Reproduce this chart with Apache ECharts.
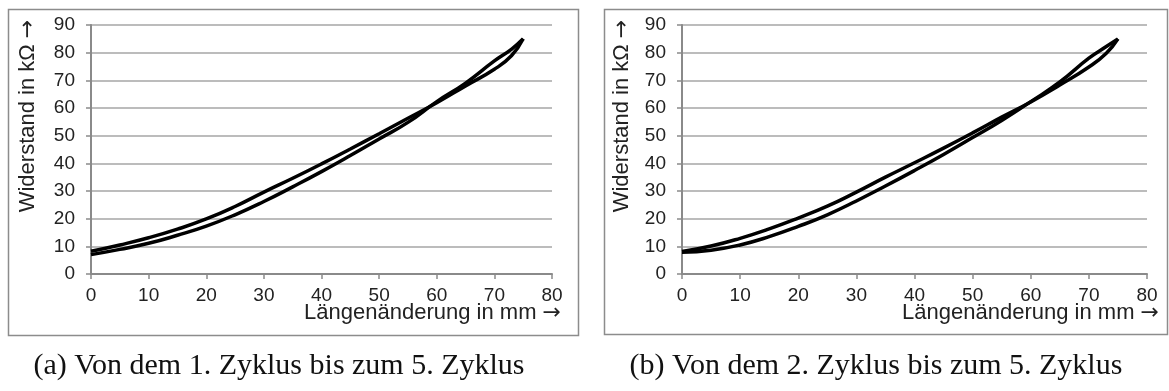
<!DOCTYPE html>
<html>
<head>
<meta charset="utf-8">
<script src="https://cdn.jsdelivr.net/npm/echarts@6/dist/echarts.min.js"></script>
<style>
  html, body { margin: 0; padding: 0; background: #fff; }
  #chart { width: 1169px; height: 391px; }
</style>
</head>
<body>
<div id="chart"></div>
<script>
// Längenänderung in mm (shared x positions)
const laenge = [0, 5, 10, 15, 20, 25, 30, 35, 40, 45, 50, 55, 60, 65, 70, 73, 75]

// (a) 1. bis 5. Zyklus, Widerstand in kΩ
const zyklus1Oben = [8.2, 10.5, 13.1, 16.2, 19.9, 24.4, 29.6, 34.6, 39.8, 45.2, 50.7, 56.3, 61.9, 68.0, 74.0, 79.0, 85]
const zyklus1Unten = [7.0, 8.9, 11.1, 14.0, 17.3, 21.4, 26.2, 31.5, 37.0, 42.8, 48.8, 54.8, 62.3, 69.0, 77.0, 81.3, 85]

// (b) 2. bis 5. Zyklus, Widerstand in kΩ
const zyklus2Oben = [8.1, 10.1, 12.9, 16.3, 20.2, 24.5, 29.6, 35.0, 40.2, 45.5, 51.0, 56.7, 62.2, 68.3, 74.8, 79.8, 85]
const zyklus2Unten = [7.9, 8.6, 10.5, 13.5, 17.2, 21.4, 26.4, 31.8, 37.4, 43.2, 49.3, 55.5, 62.3, 69.4, 78.0, 82.2, 85]

const yTitle = 'Widerstand in kΩ {a|→}'
const xTitle = 'Längenänderung in mm {a|→}'
const captions = ['(a) Von dem 1. Zyklus bis zum 5. Zyklus', '(b) Von dem 2. Zyklus bis zum 5. Zyklus']

const pairs = (ys) => laenge.map((x, i) => [x, ys[i]])

const axisGray = '#8a8a8a'
const labelFont = { fontFamily: 'Liberation Sans', fontSize: 19, color: '#222' }

const makeX = (gridIndex) => ({
  gridIndex,
  type: 'value',
  min: 0,
  max: 80,
  interval: 10,
  axisLine: { show: true, lineStyle: { color: axisGray, width: 2 } },
  axisTick: { show: true, length: 5, lineStyle: { color: axisGray, width: 1.5 } },
  axisLabel: { ...labelFont, margin: 12 },
  splitLine: { show: false },
})
const makeY = (gridIndex) => ({
  gridIndex,
  type: 'value',
  min: 0,
  max: 90,
  interval: 10,
  axisLine: { show: true, lineStyle: { color: axisGray, width: 2 } },
  axisTick: { show: true, length: 5, lineStyle: { color: axisGray, width: 1.5 } },
  axisLabel: { ...labelFont, margin: 16 },
  splitLine: { show: true, lineStyle: { color: '#a6a6a6', width: 1.5 } },
})
const makeLine = (ys, idx) => ({
  type: 'line',
  xAxisIndex: idx,
  yAxisIndex: idx,
  data: pairs(ys),
  smooth: 0.5,
  showSymbol: false,
  lineStyle: { color: '#000', width: 3.5 },
  silent: true,
})

const titleText = (x, y, text, extra) => ({
  type: 'text',
  x,
  y,
  style: {
    text,
    font: '22px "Liberation Sans"',
    fill: '#222',
    rich: { a: { fontFamily: 'DejaVu Sans', fontSize: 22, fill: '#222' } },
    ...extra,
  },
})

const captionText = (x, text) => ({
  type: 'text',
  x,
  y: 366,
  style: { text, font: '30px "Liberation Serif"', fill: '#111', align: 'center', verticalAlign: 'middle' },
})

const chart = echarts.init(document.getElementById('chart'))
chart.setOption({
  animation: false,
  grid: [
    { left: 91, top: 25, width: 461, height: 249 },
    { left: 682, top: 25, width: 465, height: 249 },
  ],
  xAxis: [makeX(0), makeX(1)],
  yAxis: [makeY(0), makeY(1)],
  series: [
    makeLine(zyklus1Oben, 0),
    makeLine(zyklus1Unten, 0),
    makeLine(zyklus2Oben, 1),
    makeLine(zyklus2Unten, 1),
  ],
  graphic: [
    { type: 'rect', shape: { x: 8.5, y: 9.5, width: 570, height: 326 }, style: { fill: 'none', stroke: '#8c8c8c', lineWidth: 1.5 } },
    { type: 'rect', shape: { x: 604.5, y: 9.5, width: 563, height: 325 }, style: { fill: 'none', stroke: '#8c8c8c', lineWidth: 1.5 } },
    { ...titleText(28, 116, yTitle, { align: 'center', verticalAlign: 'middle' }), rotation: Math.PI / 2 },
    { ...titleText(622, 116, yTitle, { align: 'center', verticalAlign: 'middle' }), rotation: Math.PI / 2 },
    titleText(561, 313, xTitle, { align: 'right', verticalAlign: 'middle' }),
    titleText(1159, 313, xTitle, { align: 'right', verticalAlign: 'middle' }),
    captionText(279, captions[0]),
    captionText(876, captions[1]),
  ],
})
</script>
</body>
</html>
